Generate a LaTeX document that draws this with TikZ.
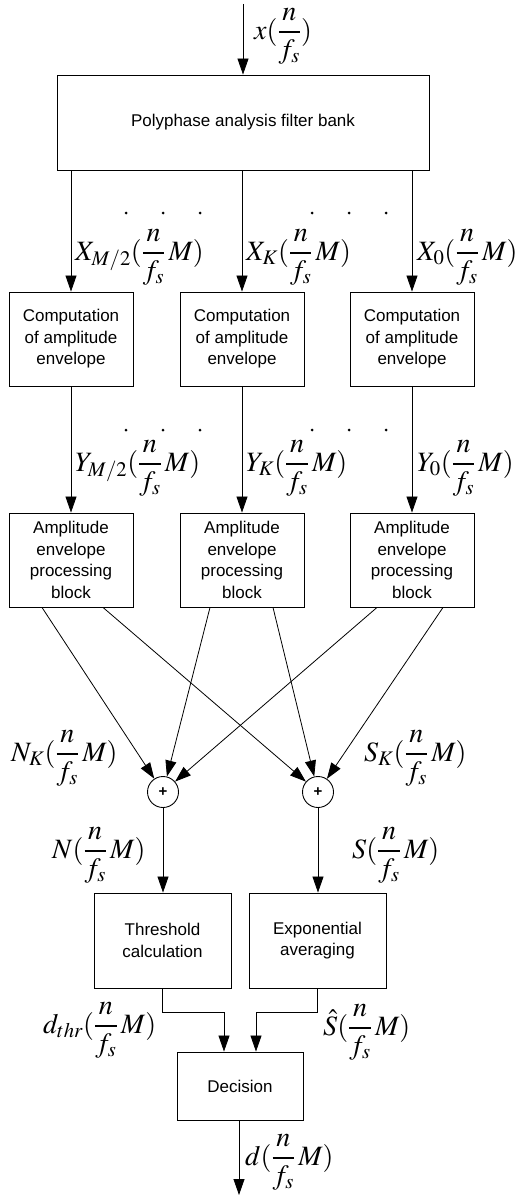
\documentclass[tikz,border=0pt]{standalone}
\usepackage{amsmath}
\usepackage{mathptmx}
\usepackage{fontspec}
\setsansfont{Liberation Sans}
\usetikzlibrary{arrows.meta,calc}
\newcommand{\fns}{\dfrac{n}{f_s}}
\begin{document}
\begin{tikzpicture}[x=1pt,y=-1pt,
  blk/.style={draw,line width=0.9pt,inner sep=0pt,align=center,font=\fontsize{17}{21.5}\selectfont\sffamily},
  arr/.style={line width=0.8pt,-{Triangle[width=11pt,length=16pt]}},
  lab/.style={inner sep=0pt,font=\fontsize{28}{32}\selectfont},
  sumc/.style={draw,circle,line width=0.9pt,minimum size=31pt,inner sep=0pt,font=\fontsize{15}{15}\selectfont\sffamily\bfseries},
  dotm/.style={circle,fill,inner sep=0pt,minimum size=3pt}]
\useasboundingbox (0,0) rectangle (532,1196);
% boxes
\node[blk,minimum width=372pt,minimum height=95pt] (poly) at (243,122.5) {Polyphase analysis filter bank};
\node[blk,minimum width=124pt,minimum height=94pt] (c1) at (71,339) {Computation\\of amplitude\\envelope};
\node[blk,minimum width=124pt,minimum height=94pt] (c2) at (242,339) {Computation\\of amplitude\\envelope};
\node[blk,minimum width=124pt,minimum height=94pt] (c3) at (412,339) {Computation\\of amplitude\\envelope};
\node[blk,minimum width=124pt,minimum height=94pt] (a1) at (71,560) {Amplitude\\envelope\\processing\\block};
\node[blk,minimum width=124pt,minimum height=94pt] (a2) at (242,560) {Amplitude\\envelope\\processing\\block};
\node[blk,minimum width=124pt,minimum height=94pt] (a3) at (412,560) {Amplitude\\envelope\\processing\\block};
\node[sumc] (sn) at (163,792) {+};
\node[sumc] (ss) at (318,792) {+};
\node[blk,minimum width=137pt,minimum height=95pt] (thr) at (162.5,940.5) {Threshold\\calculation};
\node[blk,minimum width=137pt,minimum height=95pt] (exa) at (317.5,940.5) {Exponential\\averaging};
\node[blk,minimum width=126pt,minimum height=68pt] (dec) at (240,1086) {Decision};
\coordinate (in) at (243,4);
\coordinate (out) at (239,1195);
% connectors
\draw[arr] (in) -- (poly.north);
\draw[arr] (poly.south -| c1.north) -- (c1.north);
\draw[arr] (poly.south -| c2.north) -- (c2.north);
\draw[arr] (poly.south -| c3.north) -- (c3.north);
\draw[arr] (c1) -- (a1);
\draw[arr] (c2) -- (a2);
\draw[arr] (c3) -- (a3);
\draw[arr] ([xshift=-29pt]a1.south) -- (sn);
\draw[arr] ([xshift=32pt]a1.south) -- (ss);
\draw[arr] ([xshift=-32pt]a2.south) -- (sn);
\draw[arr] ([xshift=31pt]a2.south) -- (ss);
\draw[arr] ([xshift=-35pt]a3.south) -- (sn);
\draw[arr] ([xshift=31pt]a3.south) -- (ss);
\draw[arr] (sn) -- (sn |- thr.north);
\draw[arr] (ss) -- (ss |- exa.north);
\draw[arr] (thr.south) -- ++(0,24) -| ([xshift=-16pt]dec.north);
\draw[arr] (exa.south) -- ++(0,24) -| ([xshift=16pt]dec.north);
\draw[arr] (dec.south -| out) -- (out);
% dots
\foreach \x in {126,163,200,312,349,386}{
  \node[dotm] at (\x,213) {};
  \node[dotm] at (\x,430) {};
}
% labels
\node[lab,anchor=west] (lx) at (254,36) {$x(\fns)$};
\node[lab,anchor=west] (lx1) at (75,257) {$X_{M/2}(\fns\,M)$};
\node[lab,anchor=west] (lx2) at (246,257) {$X_K(\fns\,M)$};
\node[lab,anchor=west] (lx3) at (417,257) {$X_0(\fns\,M)$};
\node[lab,anchor=west] (ly1) at (75,468) {$Y_{M/2}(\fns\,M)$};
\node[lab,anchor=west] (ly2) at (246,468) {$Y_K(\fns\,M)$};
\node[lab,anchor=west] (ly3) at (417,468) {$Y_0(\fns\,M)$};
\node[lab,anchor=west] (lnk) at (11,758) {$N_K(\fns\,M)$};
\node[lab,anchor=west] (lsk) at (364,758) {$S_K(\fns\,M)$};
\node[lab,anchor=west] (ln) at (52,855) {$N(\fns\,M)$};
\node[lab,anchor=west] (ls) at (352,855) {$S(\fns\,M)$};
\node[lab,anchor=west] (ld) at (43,1030) {$d_{thr}(\fns\,M)$};
\node[lab,anchor=west] (lsh) at (323,1032) {$\hat{S}(\fns\,M)$};
\node[lab,anchor=west] (lo) at (245,1162) {$d(\fns\,M)$};
\end{tikzpicture}
\end{document}
